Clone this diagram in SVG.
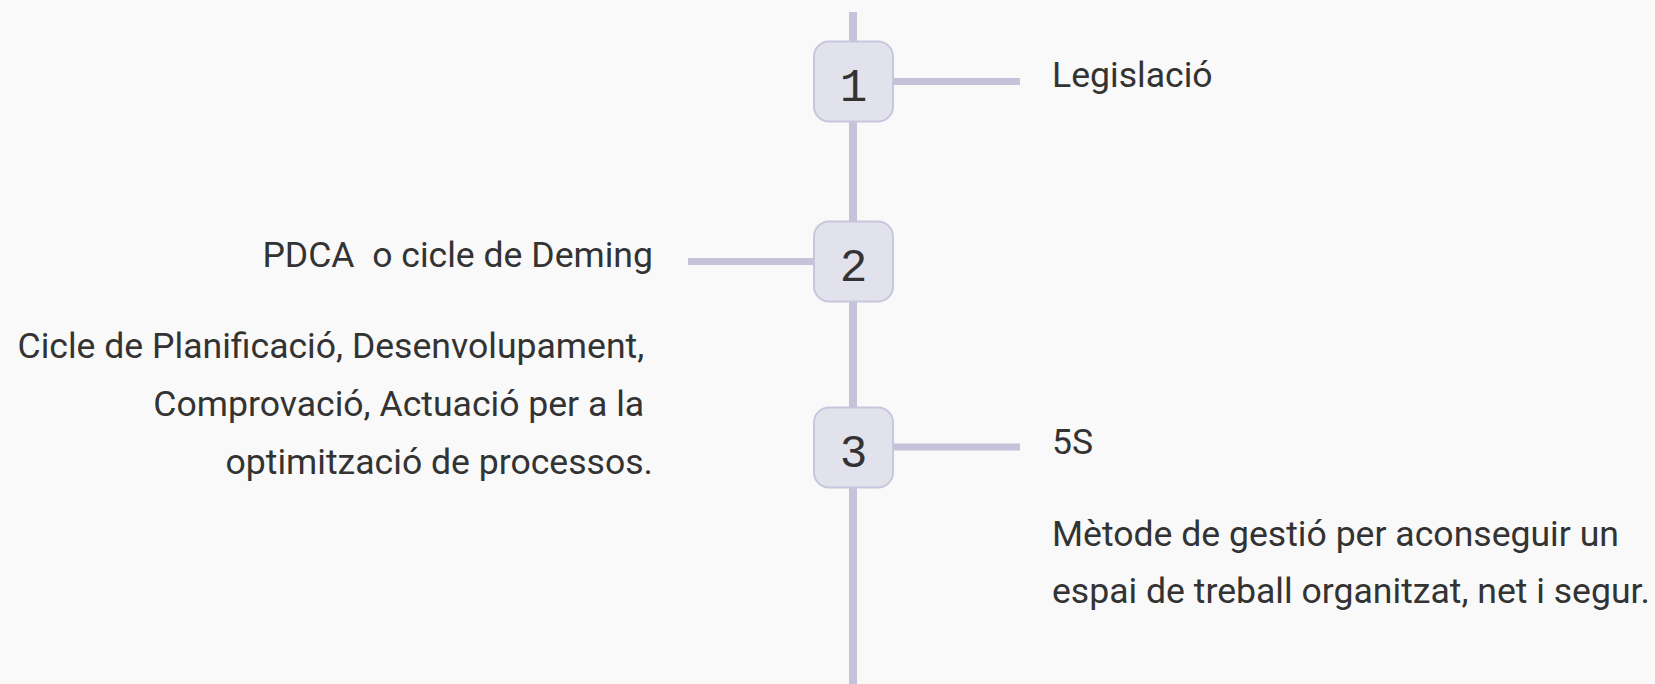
<svg xmlns="http://www.w3.org/2000/svg" width="1655" height="684" viewBox="0 0 1655 684">
<style>
.bg{fill:#f9f9f9}
.line{stroke:#c4c3d9;fill:none}
.box{fill:#e2e2ec;stroke:#c7c6dc;stroke-width:2}
.num{font-family:"Liberation Mono",monospace;font-size:46px;fill:#333;text-anchor:middle}
.lbl{font-family:Roboto,"Liberation Sans",sans-serif;font-size:35.6px;fill:#333}
.end{text-anchor:end}
</style>
<rect class="bg" x="0" y="0" width="1655" height="684"/>
<g id="connectors">
<line class="line" x1="853" y1="12" x2="853" y2="684" stroke-width="8"/>
<line class="line" x1="893" y1="81.5" x2="1020" y2="81.5" stroke-width="7"/>
<line class="line" x1="688" y1="261.5" x2="814" y2="261.5" stroke-width="7"/>
<line class="line" x1="893" y1="447" x2="1020" y2="447" stroke-width="7"/>
</g>
<g id="node1">
<rect class="box" x="814" y="41.5" width="79" height="80" rx="15"/>
<text class="num" x="853.5" y="100.5">1</text>
</g>
<g id="node2">
<rect class="box" x="814" y="221.5" width="79" height="80" rx="15"/>
<text class="num" x="853.5" y="280.5">2</text>
</g>
<g id="node3">
<rect class="box" x="814" y="407.5" width="79" height="80" rx="15"/>
<text class="num" x="853.5" y="466.5">3</text>
</g>
<g id="label1">
<text class="lbl" x="1052" y="87.3">Legislació</text>
</g>
<g id="label2">
<text class="lbl end" x="653" y="267.3" xml:space="preserve">PDCA  o cicle de Deming</text>
<text class="lbl end" x="644.2" y="357.8">Cicle de Planificació, Desenvolupament,</text>
<text class="lbl end" x="644.2" y="415.9">Comprovació, Actuació per a la</text>
<text class="lbl end" x="653" y="474">optimització de processos.</text>
</g>
<g id="label3">
<text class="lbl" x="1052" y="454">5S</text>
<text class="lbl" x="1052" y="545.7">Mètode de gestió per aconseguir un</text>
<text class="lbl" x="1052" y="602.7">espai de treball organitzat, net i segur.</text>
</g>
</svg>
